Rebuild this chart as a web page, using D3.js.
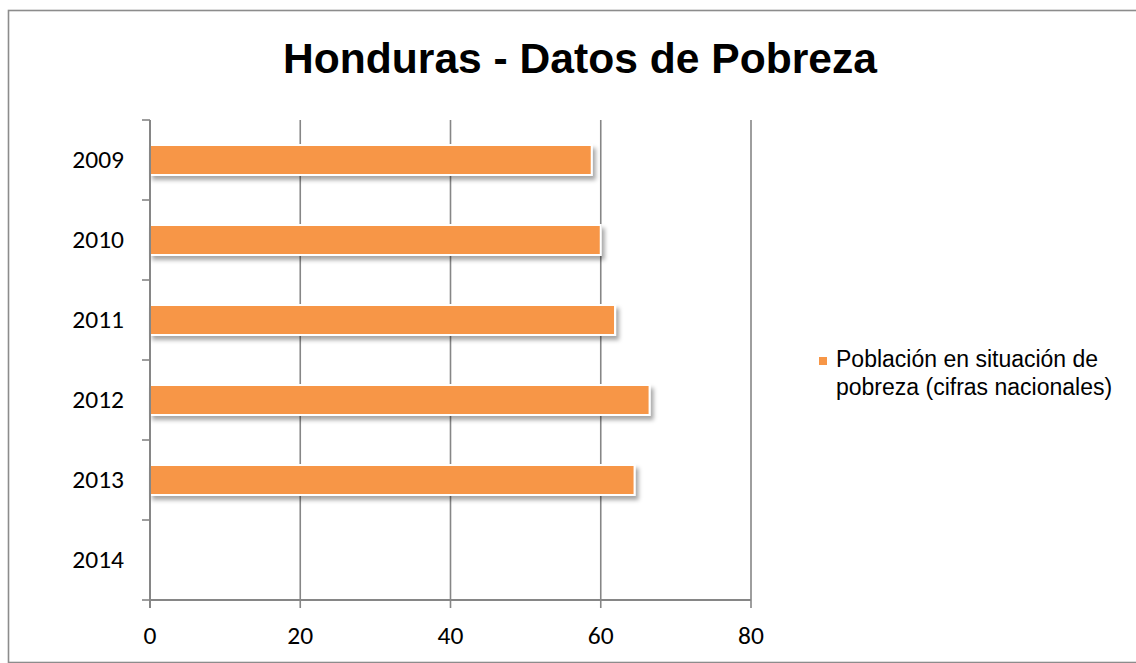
<!DOCTYPE html>
<html>
<head>
<meta charset="utf-8">
<script src="https://cdn.jsdelivr.net/npm/d3@7"></script>
<style>
  html, body { margin: 0; padding: 0; background: #fff; }
  .title { font-family: "Liberation Sans", Arial, sans-serif; font-weight: bold; font-size: 42.6px; }
  .ylab, .xlab { font-family: Carlito, Lato, sans-serif; font-size: 25.5px; fill: #000; }
  .legend-text { font-family: "Liberation Sans", Arial, sans-serif; font-size: 23px; fill: #000; }
</style>
</head>
<body>
<div id="wrapper"></div>
<script>
// 1. data
const years = ["2009", "2010", "2011", "2012", "2013", "2014"];
const poverty = [58.8, 60.0, 61.9, 66.5, 64.5, null]; // % population, no value for 2014
const xTicks = [0, 20, 40, 60, 80];
const seriesName = ["Población en situación de", "pobreza (cifras nacionales)"];
const chartTitle = "Honduras - Datos de Pobreza";

// 2. dimensions
const width = 1136, height = 663;
const plot = { left: 150, right: 751, top: 120, bottom: 600 };

const svg = d3.select("#wrapper").append("svg")
    .attr("width", width)
    .attr("height", height);

// drop shadow like the office chart
const defs = svg.append("defs");
const shadow = defs.append("filter").attr("id", "shadow")
    .attr("x", "-10%").attr("y", "-40%").attr("width", "130%").attr("height", "200%");
shadow.append("feDropShadow")
    .attr("dx", 3).attr("dy", 4).attr("stdDeviation", 2.2)
    .attr("flood-color", "#000").attr("flood-opacity", 0.35);

// frame
svg.append("rect")
    .attr("x", 8.5).attr("y", 10.5)
    .attr("width", 1140).attr("height", 652)
    .attr("fill", "none").attr("stroke", "#8c8c8c").attr("stroke-width", 1.6);

// 3. scales
const x = d3.scaleLinear().domain([0, 80]).range([plot.left, plot.right]);
const y = d3.scaleBand().domain(years)
    .range([plot.top, plot.bottom])
    .paddingInner(0.625).paddingOuter(0.3125);

const gridColor = "#868686";

// gridlines (extend below the axis as ticks)
svg.append("g").selectAll("line")
    .data(xTicks.slice(1))
    .join("line")
    .attr("x1", d => x(d)).attr("x2", d => x(d))
    .attr("y1", plot.top).attr("y2", plot.bottom + 8)
    .attr("stroke", gridColor).attr("stroke-width", 1.6);

// 4. bars
const rows = years.map((yr, i) => ({ year: yr, value: poverty[i] })).filter(d => d.value != null);
svg.append("g").selectAll("rect")
    .data(rows)
    .join("rect")
    .attr("x", x(0))
    .attr("y", d => y(d.year))
    .attr("width", d => x(d.value) - x(0))
    .attr("height", y.bandwidth())
    .attr("fill", "#F79646")
    .attr("stroke", "#fff")
    .attr("stroke-width", 2)
    .attr("filter", "url(#shadow)");

// 5. axes
// y axis line and tick marks at band boundaries
const boundaries = years.map(d => y(d) - y.step() * y.paddingInner() / 2).concat([plot.bottom]);
svg.append("line")
    .attr("x1", plot.left).attr("x2", plot.left)
    .attr("y1", plot.top).attr("y2", plot.bottom + 8)
    .attr("stroke", gridColor).attr("stroke-width", 2);
svg.append("g").selectAll("line")
    .data(boundaries)
    .join("line")
    .attr("x1", plot.left - 8).attr("x2", plot.left)
    .attr("y1", d => d).attr("y2", d => d)
    .attr("stroke", gridColor).attr("stroke-width", 1.6);

// x axis line
svg.append("line")
    .attr("x1", plot.left).attr("x2", plot.right)
    .attr("y1", plot.bottom).attr("y2", plot.bottom)
    .attr("stroke", gridColor).attr("stroke-width", 2);

// tick labels
svg.append("g").selectAll("text")
    .data(years)
    .join("text")
    .attr("class", "ylab")
    .attr("x", 124)
    .attr("y", d => y(d) + y.bandwidth() / 2)
    .attr("dy", "0.33em")
    .attr("text-anchor", "end")
    .text(d => d);

svg.append("g").selectAll("text")
    .data(xTicks)
    .join("text")
    .attr("class", "xlab")
    .attr("x", d => x(d))
    .attr("y", 636)
    .attr("dy", "0.33em")
    .attr("text-anchor", "middle")
    .text(d => d);

// 6. title and legend
svg.append("text")
    .attr("class", "title")
    .attr("x", 580).attr("y", 73)
    .attr("text-anchor", "middle")
    .text(chartTitle);

const legend = svg.append("g").attr("transform", "translate(819, 357)");
legend.append("rect")
    .attr("width", 8).attr("height", 8)
    .attr("fill", "#F79646");
legend.selectAll("text")
    .data(seriesName)
    .join("text")
    .attr("class", "legend-text")
    .attr("x", 17)
    .attr("y", (d, i) => 10 + i * 28)
    .text(d => d);
</script>
</body>
</html>
